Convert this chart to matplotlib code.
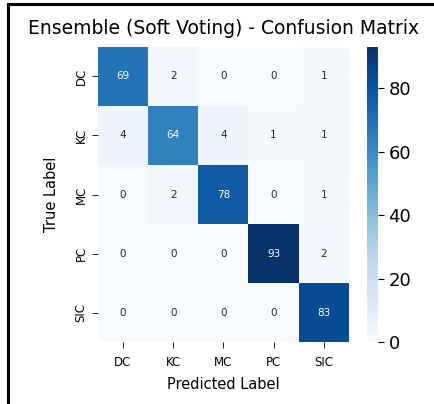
import numpy as np
import matplotlib
matplotlib.use("Agg")
import matplotlib.pyplot as plt
from matplotlib.lines import Line2D
import seaborn as sns

classes = ["DC", "KC", "MC", "PC", "SIC"]
cm = np.array([
    [69, 2, 0, 0, 1],
    [4, 64, 4, 1, 1],
    [0, 2, 78, 0, 1],
    [0, 0, 0, 93, 2],
    [0, 0, 0, 0, 83],
])
cbar_ticks = [0, 20, 40, 60, 80]

fig = plt.figure(figsize=(4.35, 4.04), dpi=100)
ax = fig.add_axes([0.225, 0.153, 0.577, 0.731])
cax = fig.add_axes([0.844, 0.153, 0.025, 0.731])

sns.heatmap(cm, annot=True, fmt="d", cmap="Blues", ax=ax, cbar_ax=cax,
            xticklabels=classes, yticklabels=classes,
            annot_kws={"fontsize": 7.5})

ax.set_title("Ensemble (Soft Voting) - Confusion Matrix", fontsize=13.5, pad=9)
ax.set_xlabel("Predicted Label", fontsize=10.5, labelpad=6)
ax.set_ylabel("True Label", fontsize=10.5, labelpad=11)
ax.tick_params(axis="both", labelsize=8.5, length=4, width=0.6)
ax.tick_params(axis="x", pad=6)
ax.set_yticklabels(classes, rotation=90, va="center")

cax.set_yticks(cbar_ticks)
cax.tick_params(labelsize=13, length=4)
for s in cax.spines.values():
    s.set_visible(False)

# thin frame along the top and left edges
fig.add_artist(Line2D([0.018, 1.0], [0.990, 0.990], color="black", lw=2.2))
fig.add_artist(Line2D([0.018, 0.018], [0.0, 0.990], color="black", lw=2.2))

fig.savefig("out.png", dpi=100)
